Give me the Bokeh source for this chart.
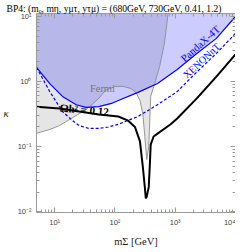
from bokeh.plotting import figure
from bokeh.models import LogAxis, Label, CustomJSTickFormatter, Range1d, LogTicker
from bokeh.embed import file_html
from bokeh.resources import INLINE

# ---- data ----
pandax_x = [5.0, 8.3, 13.5, 22.8, 33, 54, 88, 114, 241, 509, 1079, 2281, 4820, 10000]
pandax_y = [1.65, 0.93, 0.59, 0.44, 0.40, 0.41, 0.46, 0.51, 0.68, 0.93, 1.53, 2.7, 4.6, 10.0]

xenon_x = [5.0, 8.3, 13.5, 18.9, 25.5, 37, 54, 78, 114, 241, 509, 1079, 2281, 4820, 10000]
xenon_y = [1.65, 0.70, 0.345, 0.26, 0.21, 0.19, 0.19, 0.20, 0.22, 0.29, 0.44, 0.70, 1.4, 2.7, 5.5]

relic_x = [5.0, 12, 25.5, 54, 114, 166, 215, 260, 290, 313, 325, 337, 364, 378, 392, 438, 509, 830, 1079, 2281, 4820, 10000]
relic_y = [0.41, 0.385, 0.345, 0.31, 0.29, 0.25, 0.20, 0.12, 0.049, 0.024, 0.016, 0.017, 0.024, 0.049, 0.107, 0.143, 0.158, 0.218, 0.27, 0.55, 1.19, 2.6]

fermi_x = [5.0, 8.3, 12, 17.5, 25.5, 37, 54, 70, 100, 137, 185, 224, 260, 290, 313, 337, 364, 378, 392, 456, 550, 662, 770]
fermi_y = [0.16, 0.183, 0.21, 0.26, 0.32, 0.40, 0.55, 0.73, 0.84, 0.84, 0.78, 0.68, 0.51, 0.32, 0.143, 0.063, 0.10, 0.24, 0.59, 0.93, 1.70, 3.85, 12.0]

x_min, x_max = 5.0, 1e4
y_min, y_max = 0.0097, 11.1
y_cap = 100.0

SERIF = "Liberation Serif"
SANS = "Liberation Sans"

p = figure(frame_width=199, frame_height=199, x_axis_type="log", y_axis_type="log",
           x_range=Range1d(x_min, x_max), y_range=Range1d(y_min, y_max),
           output_backend="svg", toolbar_location=None,
           title="BP4: (mᵨ, mη, yμτ, yτμ) = (680GeV, 730GeV, 0.41, 1.2)",
           min_border_left=30, min_border_right=0, min_border_top=0, min_border_bottom=0)
p.border_fill_color = "white"
p.title.text_font = SERIF
p.title.text_font_size = "9.6px"
p.title.text_font_style = "normal"
p.title.text_color = "black"
p.title.align = "left"
p.title.standoff = 0
p.title.offset = -30
p.outline_line_color = None
p.grid.visible = False
p.background_fill_color = "white"

# Fermi region (above the gray curve)
p.patch(fermi_x + [fermi_x[-1], fermi_x[0]], fermi_y + [y_cap, y_cap],
        fill_color="#e5e5e5", line_color=None)
# PandaX-4T region (above the solid blue line)
p.patch(pandax_x + [pandax_x[-1], pandax_x[0]], pandax_y + [y_cap, y_cap],
        fill_color="#0000ff", fill_alpha=0.2, line_color=None)

p.line(fermi_x, fermi_y, line_color="#8c8c8c", line_width=0.9)
p.line(xenon_x, xenon_y, line_color="#0000ff", line_width=1.2, line_dash="3 2")
p.line(pandax_x, pandax_y, line_color="#0000ff", line_width=1.2)
p.line(relic_x, relic_y, line_color="black", line_width=2)

# labels
p.add_layout(Label(x=2620, y=3.8, text="PandaX-4T", angle=0.73, text_align="center",
                   text_baseline="middle", text_font=SERIF, text_font_size="10.5px",
                   text_color="#0000ff"))
p.add_layout(Label(x=2730, y=2.1, text="XENONnT", angle=0.75, text_align="center",
                   text_baseline="middle", text_font=SERIF, text_font_size="10px",
                   text_color="#0000ff"))
p.add_layout(Label(x=62, y=0.78, text="Fermi", text_align="center",
                   text_baseline="middle", text_font=SERIF, text_font_size="10.5px",
                   text_color="#777777"))
p.add_layout(Label(x=31, y=0.37, text="Ωh² = 0.12", angle=-0.09, text_align="center",
                   text_baseline="middle", text_font=SERIF, text_font_size="11px",
                   text_font_style="bold", text_color="black"))

fmt = CustomJSTickFormatter(code="""
const e = Math.round(Math.log10(tick));
const sup = {"-":"\u207b","0":"\u2070","1":"\u00b9","2":"\u00b2","3":"\u00b3","4":"\u2074","5":"\u2075"};
return "10" + String(e).split("").map(c => sup[c]).join("");
""")
blank = CustomJSTickFormatter(code="return '';")

def style(ax, labels=True):
    ax.axis_line_color = "#9a9a9a"
    ax.major_tick_line_color = "#9a9a9a"
    ax.minor_tick_line_color = "#9a9a9a"
    ax.major_tick_in = 5
    ax.major_tick_out = 0
    ax.minor_tick_in = 3
    ax.minor_tick_out = 0
    ax.major_label_text_font = SANS
    ax.major_label_text_color = "#444444"
    if labels:
        ax.formatter = fmt
        ax.major_label_text_font_size = "7.5px"
        ax.major_label_standoff = 5
    else:
        ax.formatter = blank
        ax.major_label_text_font_size = "1px"
        ax.major_label_standoff = 0

style(p.xaxis[0])
style(p.yaxis[0])
p.xaxis[0].axis_label = "mΣ [GeV]"
p.xaxis[0].axis_label_text_font = SERIF
p.xaxis[0].axis_label_text_font_size = "10.5px"
p.xaxis[0].axis_label_text_font_style = "normal"
p.xaxis[0].axis_label_text_color = "#222222"
p.xaxis[0].axis_label_standoff = 6
p.yaxis[0].axis_label = "κ"
p.yaxis[0].axis_label_text_font = SERIF
p.yaxis[0].axis_label_text_font_size = "11px"
p.yaxis[0].axis_label_text_font_style = "italic"
p.yaxis[0].axis_label_text_color = "#222222"
p.yaxis[0].axis_label_orientation = "horizontal"
p.yaxis[0].axis_label_standoff = 6

top = LogAxis(ticker=LogTicker(num_minor_ticks=10))
right = LogAxis(ticker=LogTicker(num_minor_ticks=10))
style(top, labels=False)
style(right, labels=False)
p.add_layout(top, "above")
p.add_layout(right, "right")

open("out.html", "w").write(file_html(p, INLINE))
